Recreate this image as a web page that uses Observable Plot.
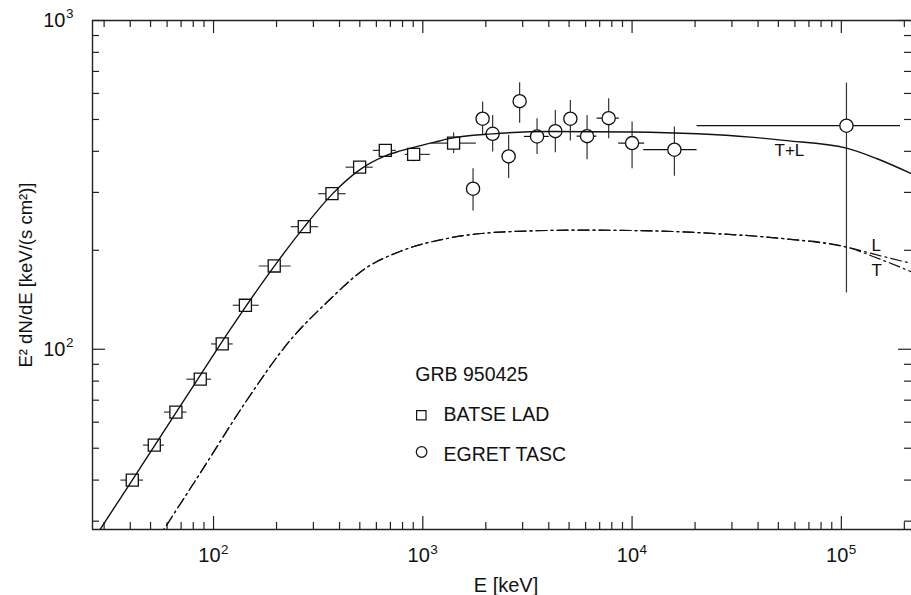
<!DOCTYPE html>
<html><head><meta charset="utf-8">
<script src="https://cdn.jsdelivr.net/npm/d3@7"></script>
<script src="https://cdn.jsdelivr.net/npm/@observablehq/plot@0.6"></script>
<style>html,body{margin:0;padding:0;background:#fff}svg{display:block}</style>
</head><body><div id="chart"></div>
<script>
// ---- BATSE LAD (squares) ----
const batseE   = [40.9, 52.1, 66.1, 86.4, 110, 142, 195, 271.4, 368, 499, 662, 904, 1403];
const batseELo = [36.1, 46.3, 58.3, 74.6, 97.8, 124.2, 165.4, 235, 318, 430, 580, 825, 1100];
const batseEHi = [46.3, 58.3, 74.6, 97.8, 124.2, 165.4, 235, 318, 430, 580, 747, 1086, 1802];
const batseF   = [40.0, 51.1, 64.4, 81.1, 103.8, 136.1, 179.2, 236, 297.3, 358, 402.6, 391.5, 423.8];
const batseFLo = [38.8, 49.6, 62.5, 78.7, 100.7, 132.0, 173.8, 229, 288.4, 347, 388, 372, 394];
const batseFHi = [41.2, 52.6, 66.3, 83.5, 106.9, 140.2, 184.6, 243, 306.2, 369, 417, 411, 455];

// ---- EGRET TASC (circles) ----
const egretE   = [1738, 1931, 2156, 2571, 2902, 3515, 4299, 5071, 6095, 7730, 10000, 15930, 105780];
const egretELo = [1738, 1931, 1989, 2571, 2902, 3056, 4299, 5071, 5459, 6803, 8630, 11362, 20443];
const egretEHi = [1738, 1931, 2347, 2571, 2902, 4024, 4299, 5071, 6803, 8697, 11488, 20443, 191700];
const egretF   = [307.8, 502.6, 452.3, 386, 568.5, 444, 460.8, 502.6, 444.9, 504.7, 423.7, 404.6, 478.6];
const egretFLo = [263.3, 447, 397.8, 330.4, 487.3, 391.5, 396.1, 429.7, 377.2, 436.9, 354.2, 335.8, 148.3];
const egretFHi = [354.2, 564.6, 514.3, 447, 646.6, 502.6, 532.7, 571.3, 514.3, 578, 490.8, 474, 644.9];

// ---- model curves ----
const modelTLE = [26.3, 40.9, 75.5, 120.2, 142.2, 197.2, 271.4, 368.1, 498.8, 661.9, 780.6, 1126, 1353, 2149, 4070, 10030, 20443, 36770, 53050, 105780, 148300, 216400];
const modelTLF = [26.0, 40.0, 73.0, 115.0, 134.6, 180.6, 235.6, 295.9, 351.2, 387.3, 401.1, 425.8, 437.9, 451.9, 459.8, 458.2, 452.4, 441.9, 431.8, 409.2, 379.8, 342.0];
const modelLE  = [52.6, 57.7, 91.3, 139.1, 232.6, 348.4, 541.2, 781.4, 1353, 2820, 5870, 12235, 25486, 53050, 105780, 153800, 216400];
const modelLF  = [25.7, 28.2, 44.4, 67.6, 106.5, 139.0, 177.5, 198.6, 218.2, 228.4, 230.3, 229.2, 224.7, 217.0, 204.6, 192.4, 182.5];
const modelTE  = [52.6, 57.7, 91.3, 139.1, 232.6, 348.4, 541.2, 781.4, 1353, 2820, 5870, 12235, 25486, 53050, 105780, 153800, 216400];
const modelTF  = [25.7, 28.2, 44.4, 67.6, 106.5, 139.0, 177.5, 198.6, 218.2, 228.4, 230.3, 229.2, 224.7, 217.0, 204.6, 187.7, 172.0];

// ---- ticks ----
const xMajorTicks = [1e2, 1e3, 1e4, 1e5];
const xTickExponents = ["2", "3", "4", "5"];
const xMinorTicks = [30,40,50,60,70,80,90, 200,300,400,500,600,700,800,900,
  2000,3000,4000,5000,6000,7000,8000,9000, 2e4,3e4,4e4,5e4,6e4,7e4,8e4,9e4, 2e5];
const yMajorTicks = [1e2, 1e3];
const yTickExponents = ["2", "3"];
const yMinorTicks = [30,40,50,60,70,80,90, 200,300,400,500,600,700,800,900];

// ---- texts ----
const xTitle = "E [keV]";
const yTitle = "E\u00B2 dN/dE [keV/(s cm\u00B2)]";
const legendTitle = "GRB 950425";
const legendLabels = ["BATSE LAD", "EGRET TASC"];
const curveLabels = ["T+L", "L", "T"];

// ---- layout ----
const W = 911, H = 595, mL = 92, mT = 20, mR = 0, mB = 66;
const plotW = W - mL - mR, plotH = H - mT - mB;
const xDomain = [26.4, 216400], yDomain = [28.3, 1000];
const FONT = "'Liberation Sans', Arial, Helvetica, sans-serif";
const ink = "#111";

const batse = batseE.map((e, i) => ({e, elo: batseELo[i], ehi: batseEHi[i], f: batseF[i], flo: batseFLo[i], fhi: batseFHi[i]}));
const egret = egretE.map((e, i) => ({e, elo: egretELo[i], ehi: egretEHi[i], f: egretF[i], flo: egretFLo[i], fhi: egretFHi[i]}));
const tl = modelTLE.map((e, i) => ({e, f: modelTLF[i]}));
const lc = modelLE.map((e, i) => ({e, f: modelLF[i]}));
const tc = modelTE.map((e, i) => ({e, f: modelTF[i]}));
const xMaj = xMajorTicks.map((v, i) => ({v, ex: xTickExponents[i]}));
const yMaj = yMajorTicks.map((v, i) => ({v, ex: yTickExponents[i]}));

// annotation anchors (data coordinates)
const legendItems = [
  {e: 920.7, f: 83.6, text: legendTitle},
  {e: 1257, f: 63.2, text: legendLabels[0]},
  {e: 1257, f: 47.8, text: legendLabels[1]}
];
const legendSymbols = [
  {e: 983.5, f: 63.0, s: "square"},
  {e: 986.9, f: 48.7, s: "circle"}
];
const curveText = [
  {e: 56500, f: 403.5, text: curveLabels[0]},
  {e: 146900, f: 207.1, text: curveLabels[1]},
  {e: 147500, f: 173.9, text: curveLabels[2]}
];

const majLen = 13, minLen = 7;
const tickStyle = {stroke: "#222", strokeWidth: 1.2};

const chart = Plot.plot({
  width: W, height: H,
  marginLeft: mL, marginTop: mT, marginRight: mR, marginBottom: mB,
  style: {fontFamily: FONT, background: "#fff", color: ink},
  x: {type: "log", domain: xDomain, axis: null},
  y: {type: "log", domain: yDomain, axis: null},
  marks: [
    // frame (top, bottom, left)
    Plot.ruleY(yDomain, {stroke: "#222", strokeWidth: 1.4}),
    Plot.ruleX([xDomain[0]], {stroke: "#222", strokeWidth: 1.4}),
    // ticks bottom / top
    Plot.ruleX(xMajorTicks, {...tickStyle, insetTop: plotH - majLen}),
    Plot.ruleX(xMinorTicks, {...tickStyle, insetTop: plotH - minLen}),
    Plot.ruleX(xMajorTicks, {...tickStyle, insetBottom: plotH - majLen}),
    Plot.ruleX(xMinorTicks, {...tickStyle, insetBottom: plotH - minLen}),
    // ticks left / right
    Plot.ruleY(yMajorTicks, {...tickStyle, insetRight: plotW - majLen}),
    Plot.ruleY(yMinorTicks, {...tickStyle, insetRight: plotW - minLen}),
    Plot.ruleY(yMajorTicks, {...tickStyle, insetLeft: plotW - majLen}),
    Plot.ruleY(yMinorTicks, {...tickStyle, insetLeft: plotW - minLen}),
    // tick labels x
    Plot.text(xMaj, {x: "v", text: () => "10", frameAnchor: "bottom", lineAnchor: "top", textAnchor: "end", dx: 7, dy: 18, fontSize: 20, fill: ink}),
    Plot.text(xMaj, {x: "v", text: "ex", frameAnchor: "bottom", lineAnchor: "top", textAnchor: "start", dx: 7.5, dy: 15, fontSize: 13.5, fill: ink}),
    // tick labels y
    Plot.text(yMaj, {y: "v", text: () => "10", frameAnchor: "left", textAnchor: "end", dx: -27, dy: 0, fontSize: 20, fill: ink}),
    Plot.text(yMaj, {y: "v", text: "ex", frameAnchor: "left", textAnchor: "start", dx: -26.5, dy: -7, fontSize: 13.5, fill: ink}),
    // axis titles
    Plot.text([xTitle], {frameAnchor: "bottom", lineAnchor: "top", textAnchor: "middle", dx: 4, dy: 48, fontSize: 20, fill: ink}),
    Plot.text([yTitle], {frameAnchor: "left", textAnchor: "middle", rotate: -90, dx: -66, dy: 0, fontSize: 18.5, fill: ink}),
    // error bars
    Plot.ruleX(batse, {x: "e", y1: "flo", y2: "fhi", stroke: "#333", strokeWidth: 1.2}),
    Plot.ruleY(batse, {y: "f", x1: "elo", x2: "ehi", stroke: "#333", strokeWidth: 1.2}),
    Plot.ruleX(egret, {x: "e", y1: "flo", y2: "fhi", stroke: "#333", strokeWidth: 1.2}),
    Plot.ruleY(egret, {y: "f", x1: "elo", x2: "ehi", stroke: "#111", strokeWidth: 1.2}),
    // markers
    Plot.dot(batse, {x: "e", y: "f", symbol: "square", r: 6.8, fill: "#fff", stroke: ink, strokeWidth: 1.3}),
    Plot.dot(egret, {x: "e", y: "f", symbol: "circle", r: 6.6, fill: "#fff", stroke: ink, strokeWidth: 1.3}),
    // model curves
    Plot.line(tl, {x: "e", y: "f", curve: "monotone-x", stroke: ink, strokeWidth: 1.4, clip: true}),
    Plot.line(lc, {x: "e", y: "f", curve: "monotone-x", stroke: ink, strokeWidth: 1.2, strokeDasharray: "11,4,2,4", clip: true}),
    Plot.line(tc, {x: "e", y: "f", curve: "monotone-x", stroke: ink, strokeWidth: 1.2, strokeDasharray: "11,4,2,4", clip: true}),
    // curve labels
    Plot.text(curveText, {x: "e", y: "f", text: "text", fontSize: 17, fill: ink}),
    // legend
    Plot.text(legendItems, {x: "e", y: "f", text: "text", textAnchor: "start", fontSize: 19.5, fill: ink}),
    Plot.dot(legendSymbols, {x: "e", y: "f", symbol: "s", r: 5.3, fill: "#fff", stroke: ink, strokeWidth: 1.2})
  ]
});
document.getElementById("chart").append(chart);
</script>
</body></html>
